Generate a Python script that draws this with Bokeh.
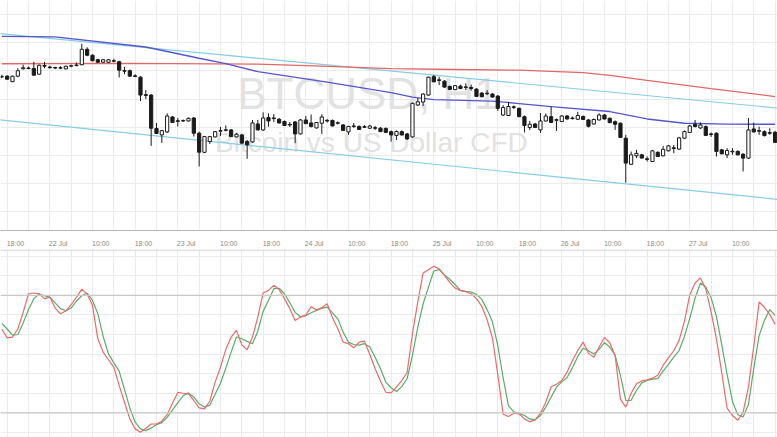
import numpy as np
from bokeh.plotting import figure
from bokeh.layouts import column
from bokeh.models import FixedTicker, Span, ColumnDataSource, Range1d
from bokeh.core.properties import value
from bokeh.embed import file_html
from bokeh.resources import INLINE

# ---------------- data (hourly BTCUSD candles) ----------------
tick_labels = ["18:00", "22 Jul", "10:00", "18:00", "23 Jul", "10:00", "18:00", "24 Jul", "10:00",
               "18:00", "25 Jul", "10:00", "18:00", "26 Jul", "10:00", "18:00", "27 Jul", "10:00", "18:00"]

opens = [684.70, 684.80, 683.70, 684.80, 686.30, 686.44, 686.34, 685.20, 686.94, 686.64,
         686.54, 686.50, 686.26, 686.80, 686.92, 687.10, 690.20, 689.00, 688.10, 687.60,
         687.60, 687.90, 687.70, 685.94, 685.90, 684.86, 684.60, 681.06, 681.00, 674.30,
         673.00, 673.60, 676.60, 675.84, 675.80, 675.80, 676.40, 673.34, 669.50, 671.66,
         672.60, 673.74, 673.90, 674.00, 672.60, 673.00, 671.70, 671.60, 675.20, 674.00,
         676.50, 676.40, 676.14, 675.70, 675.12, 675.60, 673.20, 676.00, 675.40, 674.40,
         675.34, 675.92, 675.90, 675.44, 675.00, 673.60, 674.80, 674.70, 674.64, 674.34,
         674.44, 674.34, 674.30, 673.66, 672.90, 673.66, 673.20, 672.60, 679.00, 679.60,
         681.00, 684.70, 684.06, 683.80, 682.74, 682.10, 682.80, 682.64, 682.54, 682.20,
         681.40, 681.38, 681.20, 680.80, 677.00, 676.90, 678.64, 678.34, 676.66, 674.50,
         675.20, 674.00, 675.80, 676.66, 676.06, 675.70, 676.80, 676.40, 676.14, 676.70,
         676.00, 675.20, 676.00, 677.00, 676.34, 675.66, 675.34, 672.34, 667.10, 668.80,
         669.00, 668.20, 667.66, 669.50, 668.80, 669.80, 670.40, 670.14, 672.34, 673.50,
         675.14, 674.40, 674.66, 673.20, 673.34, 670.00, 669.00, 669.72, 669.70, 669.14,
         668.34, 674.20, 673.86, 673.66, 673.46, 673.54]

highs = [685.10, 685.00, 684.90, 686.40, 687.10, 686.70, 687.66, 687.10, 687.66, 686.90,
         686.70, 686.80, 686.90, 687.10, 687.54, 691.30, 690.60, 689.20, 688.30, 688.20,
         688.20, 688.30, 687.90, 686.66, 686.10, 685.20, 684.80, 682.00, 681.20, 675.40,
         674.00, 677.34, 676.80, 676.40, 676.10, 676.50, 676.60, 673.66, 672.80, 672.80,
         673.80, 674.60, 674.90, 674.20, 673.40, 673.20, 672.00, 676.00, 676.00, 677.54,
         677.34, 677.20, 676.40, 675.90, 675.60, 675.80, 676.20, 676.80, 677.10, 675.60,
         677.14, 676.20, 676.10, 675.70, 675.20, 674.80, 675.40, 674.90, 675.00, 675.00,
         674.80, 674.60, 674.50, 673.90, 673.90, 673.90, 673.40, 679.50, 680.40, 681.40,
         684.70, 685.06, 684.66, 684.00, 682.90, 683.00, 683.10, 683.34, 683.10, 682.40,
         681.60, 682.00, 681.40, 681.00, 679.00, 679.60, 678.90, 678.50, 676.90, 675.80,
         675.40, 677.40, 677.30, 678.74, 676.30, 677.00, 677.00, 676.70, 677.66, 676.90,
         676.20, 676.30, 677.34, 677.20, 676.50, 675.90, 675.50, 673.00, 669.66, 670.00,
         669.20, 668.66, 670.00, 669.70, 670.80, 671.00, 671.00, 672.60, 673.90, 675.00,
         676.00, 675.50, 674.90, 673.50, 673.50, 670.20, 670.34, 670.34, 669.90, 669.30,
         676.40, 675.46, 674.66, 673.90, 674.34, 673.80]

lows = [684.40, 684.10, 683.60, 684.60, 686.10, 686.20, 684.90, 685.10, 686.40, 686.30,
        686.20, 686.20, 686.20, 686.60, 686.80, 687.00, 688.80, 687.80, 687.50, 687.50,
        687.50, 687.60, 684.54, 685.20, 684.70, 684.60, 679.80, 680.20, 670.80, 673.20,
        671.40, 673.40, 675.40, 674.70, 675.60, 675.70, 672.66, 666.66, 669.40, 671.20,
        672.50, 672.80, 673.70, 672.60, 672.50, 671.30, 668.20, 671.40, 673.90, 673.80,
        674.66, 675.60, 675.30, 674.80, 674.60, 671.34, 673.10, 675.20, 674.50, 674.30,
        673.20, 675.50, 674.70, 675.10, 673.80, 673.00, 674.40, 674.00, 674.40, 674.20,
        674.00, 673.60, 673.40, 671.66, 672.00, 672.90, 672.00, 672.40, 678.80, 678.80,
        680.90, 683.60, 683.00, 682.50, 682.10, 682.00, 682.20, 682.00, 681.90, 680.70,
        680.60, 681.00, 680.50, 677.80, 676.80, 676.80, 678.20, 676.60, 673.50, 674.00,
        674.40, 673.40, 675.70, 675.40, 673.80, 675.60, 676.10, 676.10, 676.00, 676.00,
        674.50, 675.10, 675.90, 676.10, 675.40, 674.00, 672.40, 663.40, 667.00, 668.34,
        668.30, 667.66, 667.60, 668.60, 668.70, 669.70, 669.34, 670.00, 672.20, 673.40,
        674.50, 674.20, 672.80, 672.60, 668.66, 669.10, 668.34, 669.00, 668.90, 665.66,
        668.20, 673.50, 673.00, 672.70, 673.00, 671.40]

closes = [684.66, 684.20, 684.80, 685.90, 686.50, 686.34, 685.00, 687.00, 686.80, 686.50,
          686.44, 686.42, 686.80, 686.90, 687.04, 690.20, 689.00, 687.90, 687.60, 688.10,
          688.10, 687.80, 686.00, 685.80, 684.80, 684.74, 681.00, 680.94, 674.34, 673.30,
          673.86, 676.80, 675.50, 675.74, 675.90, 676.34, 673.34, 669.54, 672.66, 672.66,
          673.66, 673.86, 674.04, 672.66, 673.14, 671.34, 671.00, 675.40, 674.00, 676.40,
          675.80, 676.28, 675.40, 674.90, 675.00, 673.20, 676.00, 675.26, 674.70, 675.50,
          676.60, 675.80, 674.80, 675.34, 673.90, 674.70, 674.70, 674.10, 674.54, 674.80,
          674.34, 673.66, 673.50, 673.00, 673.70, 673.00, 672.20, 679.34, 679.66, 681.20,
          684.60, 683.66, 683.94, 682.60, 682.14, 682.90, 682.30, 682.54, 682.30, 680.74,
          680.66, 681.30, 680.60, 678.34, 678.50, 678.70, 678.54, 676.66, 674.90, 675.14,
          674.50, 675.80, 676.80, 675.50, 675.94, 676.80, 676.20, 676.28, 676.90, 676.10,
          674.74, 676.10, 677.00, 676.20, 675.46, 675.14, 672.50, 667.34, 669.00, 669.30,
          668.34, 668.08, 669.80, 668.66, 670.10, 670.80, 670.28, 672.40, 673.66, 674.80,
          674.70, 675.00, 672.90, 673.08, 669.66, 669.20, 669.86, 669.60, 669.00, 668.34,
          674.00, 673.60, 673.74, 672.86, 673.34, 671.50]

# moving averages, read at selected candle indices
ma_slow_idx = [0, 24, 48, 60, 73, 85, 97, 109, 114, 121, 133, 145]
ma_slow_val = [687.30, 687.36, 687.20, 686.80, 686.30, 686.14, 686.00, 685.50, 684.96, 683.94, 682.30, 680.70]
ma_fast_idx = [0, 10, 27, 37, 42, 48, 61, 73, 77, 81, 92, 97, 103, 114, 121, 128, 136, 145]
ma_fast_val = [692.80, 692.70, 690.66, 688.40, 687.30, 685.70, 683.60, 681.50, 680.60, 680.10,
               679.80, 679.30, 678.70, 677.70, 676.20, 675.34, 675.16, 675.14]

# descending channel (two trend lines, anchor points)
chan_idx = [-1, 146]
chan_upper = [693.42, 678.34]
chan_lower = [676.08, 660.00]

# stochastic oscillator
stoch_k = [62.7, 58.3, 58.7, 62.8, 71.3, 80.8, 81.2, 80.7, 78.3, 79.1,
           73.5, 70.6, 72.0, 75.2, 79.1, 83.2, 80.5, 74.9, 57.8, 51.0,
           47.1, 43.3, 34.0, 25.4, 16.9, 11.8, 10.1, 12.1, 14.3, 14.3,
           15.7, 19.1, 24.9, 30.4, 30.0, 29.7, 26.3, 22.5, 22.0, 25.9,
           35.7, 43.3, 52.4, 58.7, 62.1, 54.7, 52.2, 58.7, 68.9, 81.2,
           82.5, 85.1, 83.0, 78.3, 73.2, 67.2, 68.9, 69.9, 74.2, 72.5,
           73.7, 75.7, 68.6, 62.9, 56.1, 55.3, 53.2, 56.1, 56.6, 49.8,
           42.5, 36.2, 30.5, 30.2, 33.1, 36.5, 40.6, 60.4, 76.7, 91.4,
           93.1, 94.8, 93.6, 90.2, 86.6, 83.7, 82.4, 81.9, 80.8, 78.3,
           74.4, 67.5, 58.3, 39.5, 19.3, 18.1, 19.8, 19.5, 16.9, 15.4,
           16.4, 19.8, 25.4, 33.3, 34.6, 36.5, 40.8, 46.7, 51.8, 56.1,
           50.5, 48.3, 53.6, 58.5, 55.8, 49.3, 27.0, 22.9, 30.0, 34.8,
           36.3, 36.8, 37.7, 39.2, 44.2, 48.1, 51.7, 57.0, 66.7, 80.2,
           86.3, 88.9, 83.2, 71.5, 57.8, 40.4, 22.4, 18.6, 16.2, 20.2,
           33.2, 53.9, 76.6, 73.9, 70.2, 65.3]

stoch_d = [65.7, 62.8, 59.7, 60.0, 65.8, 72.8, 78.3, 80.7, 79.8, 79.1,
           76.1, 73.2, 72.1, 73.5, 77.1, 79.8, 81.2, 77.4, 70.6, 59.0,
           50.1, 45.5, 41.3, 31.9, 22.5, 15.2, 11.8, 10.9, 12.3, 14.0,
           15.0, 17.7, 21.5, 25.2, 28.7, 30.2, 28.0, 24.6, 22.9, 23.9,
           29.5, 35.1, 42.8, 51.0, 58.7, 57.8, 56.5, 55.3, 61.7, 71.8,
           77.4, 83.4, 83.6, 80.8, 76.2, 71.3, 69.1, 69.6, 71.1, 72.3,
           73.3, 74.0, 71.0, 68.0, 61.2, 56.0, 54.9, 54.6, 55.3, 53.6,
           48.4, 42.5, 35.7, 32.8, 30.9, 33.4, 37.4, 49.3, 63.8, 75.7,
           84.2, 92.4, 93.1, 90.4, 88.2, 85.4, 82.5, 82.0, 81.7, 80.5,
           77.9, 72.7, 66.5, 54.3, 37.9, 23.7, 20.5, 19.8, 18.6, 16.9,
           16.4, 18.6, 22.9, 28.0, 33.1, 35.8, 38.0, 43.0, 48.8, 53.0,
           51.7, 50.1, 52.4, 55.8, 53.6, 49.3, 39.1, 26.3, 26.4, 31.4,
           35.3, 36.5, 37.2, 37.5, 41.3, 44.7, 48.4, 51.8, 59.0, 68.2,
           78.6, 86.3, 84.2, 78.8, 69.2, 54.7, 39.6, 25.8, 19.0, 17.9,
           24.2, 42.7, 59.4, 67.2, 72.7, 69.8]

# ---------------- layout / style ----------------
W = 777
GRID = "#ebebeb"
FONT = "Liberation Sans"

n = len(opens)
x = np.arange(n)
o = np.array(opens); c = np.array(closes)
src = ColumnDataSource(dict(
    x=x, high=highs, low=lows,
    top=np.maximum(o, c), bottom=np.minimum(o, c),
    fill=["#ffffff" if cc >= oo else "#1a1a1a" for oo, cc in zip(o, c)],
))

xr = Range1d(-0.25, 145.45)
grid_x = list(range(1, n, 4))
label_pos = list(range(1, n, 8))
label_ticks = [round(t + 1.55, 2) for t in label_pos]

# ---- price panel ----
p = figure(width=W, height=249, x_range=xr, y_range=Range1d(653.8, 700),
           x_axis_location="below", y_axis_location=None,
           output_backend="svg", toolbar_location=None,
           min_border_left=0, min_border_right=0, min_border_top=0, min_border_bottom=18)
p.outline_line_color = None
p.background_fill_color = "white"
p.border_fill_color = "white"
p.xgrid.ticker = FixedTicker(ticks=grid_x)
p.ygrid.ticker = FixedTicker(ticks=[657.54, 663.2, 668.86, 674.54, 680.2, 685.86, 691.54, 697.2])
p.grid.grid_line_color = GRID
p.xaxis.ticker = FixedTicker(ticks=label_ticks)
p.xaxis.major_label_overrides = {t: lab for t, lab in zip(label_ticks, tick_labels)}
p.xaxis.major_tick_line_color = None
p.xaxis.minor_tick_line_color = None
p.xaxis.axis_line_color = "#b8b8b8"
p.xaxis.major_label_text_font = FONT
p.xaxis.major_label_text_font_size = "7px"
p.xaxis.major_label_text_color = "#8a8a8a"
p.xaxis.major_label_standoff = 3

# watermark
p.text(x=[68.66], y=[681.4], text=["BTCUSD, H1"], text_font=value(FONT),
       text_font_size="44px", text_color="#e2e2e2", text_align="center",
       text_baseline="alphabetic")
p.text(x=[69.3], y=[671.4], text=["Bitcoin vs US Dollar CFD"], text_font=value(FONT),
       text_font_size="28px", text_color="#e2e2e2", text_align="center",
       text_baseline="alphabetic")

# channel and moving averages
p.line(chan_idx, chan_upper, line_color="#86cde6", line_width=1.2)
p.line(chan_idx, chan_lower, line_color="#86cde6", line_width=1.2)
p.line(ma_slow_idx, ma_slow_val, line_color="#e06868", line_width=1.3)
p.line(ma_fast_idx, ma_fast_val, line_color="#5656cc", line_width=1.3)

# candles
p.segment(x0="x", y0="high", x1="x", y1="low", source=src, line_color="#1a1a1a", line_width=1)
p.vbar(x="x", width=0.6, top="top", bottom="bottom", source=src,
       fill_color="fill", line_color="#1a1a1a", line_width=1)

# ---- stochastic panel ----
q = figure(width=W, height=188, x_range=xr, y_range=Range1d(7.4, 103.4),
           x_axis_location=None, y_axis_location=None,
           output_backend="svg", toolbar_location=None, min_border=0)
q.outline_line_color = None
q.background_fill_color = "white"
q.border_fill_color = "white"
q.xgrid.ticker = FixedTicker(ticks=grid_x)
q.ygrid.ticker = FixedTicker(ticks=list(range(0, 101, 10)))
q.grid.grid_line_color = GRID
q.add_layout(Span(location=103.1, dimension="width", line_color="#cccccc", line_width=1))
q.add_layout(Span(location=80, dimension="width", line_color="#c8c8c8", line_width=1.3))
q.add_layout(Span(location=20, dimension="width", line_color="#c8c8c8", line_width=1.3))
q.line(x, stoch_d, line_color="#5aac68", line_width=1.2)
q.line(x, stoch_k, line_color="#ec6a6a", line_width=1.2)

layout = column(p, q, spacing=0)
open("out.html", "w").write(file_html(layout, INLINE))
